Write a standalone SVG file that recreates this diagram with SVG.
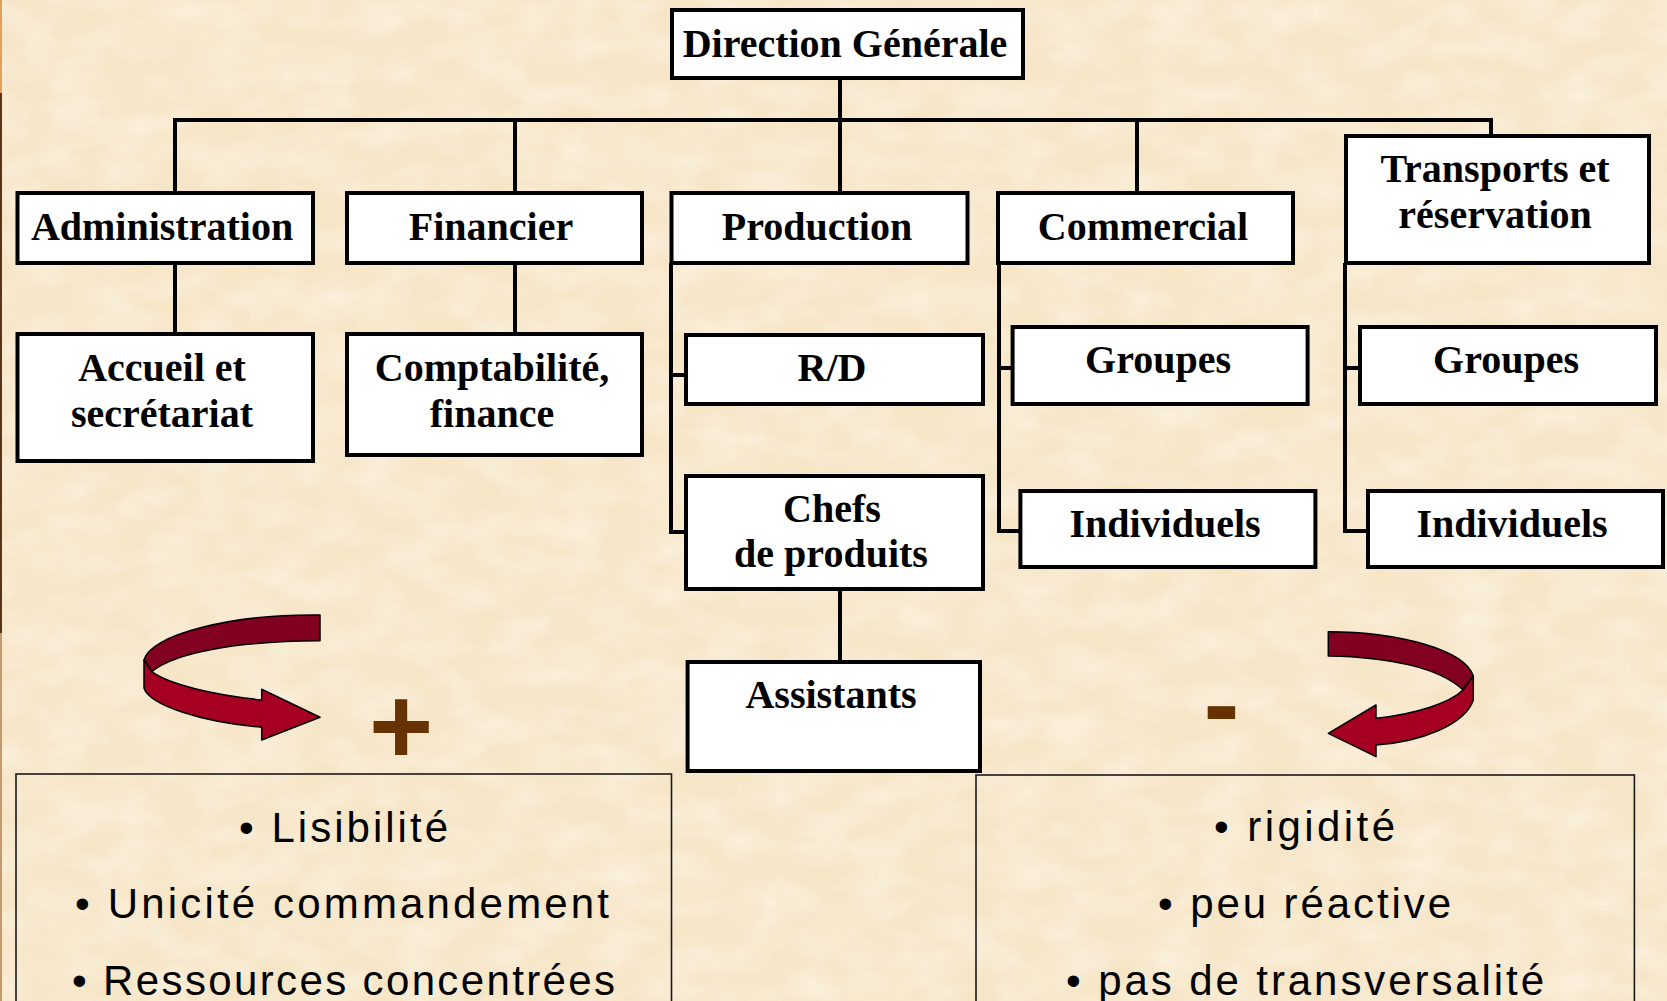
<svg xmlns="http://www.w3.org/2000/svg" width="1667" height="1001" viewBox="0 0 1667 1001">
<defs>
<style>
.box{fill:#ffffff;stroke:#000000;stroke-width:4}
.lbl{font-family:"Liberation Serif","Times New Roman",serif;font-weight:bold;font-size:40px;fill:#000000;text-anchor:middle}
.con{fill:none;stroke:#000000;stroke-width:4;stroke-linecap:square}
.panel{fill:none;stroke:#1a1a1a;stroke-width:1.6}
.bul{font-family:"Liberation Sans",Arial,sans-serif;font-size:42px;fill:#000000;text-anchor:middle}
.sign{font-family:"Liberation Sans",Arial,sans-serif;font-weight:bold;fill:#663300;text-anchor:middle}
.arrDark{fill:#820020;stroke:#000000;stroke-width:1.5;stroke-linejoin:round}
.arrLight{fill:#a50022;stroke:#000000;stroke-width:1.5;stroke-linejoin:round}
</style>
<filter id="paper" x="0" y="0" width="100%" height="100%">
<feTurbulence type="fractalNoise" baseFrequency="0.02 0.035" numOctaves="3" seed="7" result="n"/>
<feColorMatrix type="matrix" values="0 0 0 0 1  0 0 0 0 0.975  0 0 0 0 0.92  0 0 0 -1.4 1.0" in="n"/>
</filter>
</defs>
<g id="background">
<rect x="0" y="0" width="1667" height="1001" fill="#f6e5c6"/>
<rect x="0" y="0" width="1667" height="1001" filter="url(#paper)" opacity="0.55"/>
<rect x="0" y="0" width="2" height="93" fill="#e0a060"/>
<rect x="0" y="93" width="2" height="540" fill="#5a3416"/>
<rect x="0" y="633" width="2" height="368" fill="#c89a6a"/>
</g>
<g id="connectors">
<path class="con" d="M840,80 V120"/>
<path class="con" d="M175,191 V120 H1491 V134"/>
<path class="con" d="M515,120 V191"/>
<path class="con" d="M840,120 V191"/>
<path class="con" d="M1137,120 V191"/>
<path class="con" d="M175,265 V332"/>
<path class="con" d="M515,265 V332"/>
<path class="con" d="M671,265 V532 H684 M671,375 H684"/>
<path class="con" d="M999,265 V531 H1018 M999,368 H1011"/>
<path class="con" d="M1345,265 V531 H1366 M1345,368 H1358"/>
<path class="con" d="M840,591 V660"/>
</g>
<g id="n-direction"><rect class="box" x="672" y="10" width="351" height="68"/><text class="lbl" x="845" y="57">Direction Générale</text></g>
<g id="n-administration"><rect class="box" x="17.5" y="193" width="295.5" height="70"/><text class="lbl" x="162" y="240">Administration</text></g>
<g id="n-financier"><rect class="box" x="347" y="193" width="295" height="70"/><text class="lbl" x="491" y="240">Financier</text></g>
<g id="n-production"><rect class="box" x="671.5" y="193" width="296" height="70"/><text class="lbl" x="817" y="240">Production</text></g>
<g id="n-commercial"><rect class="box" x="998" y="193" width="295" height="70"/><text class="lbl" x="1143" y="240">Commercial</text></g>
<g id="n-transports"><rect class="box" x="1346" y="136" width="303" height="127"/><text class="lbl" x="1495" y="182">Transports et</text><text class="lbl" x="1495" y="228">réservation</text></g>
<g id="n-accueil"><rect class="box" x="17.5" y="334" width="295.5" height="127"/><text class="lbl" x="162" y="381">Accueil et</text><text class="lbl" x="162" y="427">secrétariat</text></g>
<g id="n-comptabilite"><rect class="box" x="347" y="334" width="295" height="121"/><text class="lbl" x="492" y="381">Comptabilité,</text><text class="lbl" x="492" y="427">finance</text></g>
<g id="n-rd"><rect class="box" x="686" y="335" width="297" height="69"/><text class="lbl" x="832" y="381">R/D</text></g>
<g id="n-chefs"><rect class="box" x="686" y="476" width="297" height="113"/><text class="lbl" x="832" y="522">Chefs</text><text class="lbl" x="831" y="567">de produits</text></g>
<g id="n-assistants"><rect class="box" x="687.6" y="662" width="292.4" height="109"/><text class="lbl" x="831" y="708">Assistants</text></g>
<g id="n-groupes-com"><rect class="box" x="1012.6" y="327" width="295" height="77"/><text class="lbl" x="1158" y="373">Groupes</text></g>
<g id="n-individuels-com"><rect class="box" x="1020.4" y="491" width="295" height="76"/><text class="lbl" x="1165" y="537">Individuels</text></g>
<g id="n-groupes-tr"><rect class="box" x="1360" y="327" width="296" height="77"/><text class="lbl" x="1506" y="373">Groupes</text></g>
<g id="n-individuels-tr"><rect class="box" x="1368" y="491" width="295" height="76"/><text class="lbl" x="1512" y="537">Individuels</text></g>
<g id="advantages">
<path class="arrDark" d="M320,615 C230,614 150,635 144,660 L151.7,671.7 C175,652 240,641 320,640.7 Z"/>
<path class="arrLight" d="M144,660 L144,688.3 C150,705 200,722 261.7,727.3 L261.7,740 L320,717.3 L261.7,689.3 L261.7,700 C215,695 170,685 151.7,671.7 Z"/>
<text class="sign" x="401" y="764" font-size="110">+</text>
<rect class="panel" x="16" y="774" width="655.5" height="260"/>
<text class="bul" x="343.5" y="842" textLength="209" lengthAdjust="spacing">• Lisibilité</text>
<text class="bul" x="342" y="918" textLength="534" lengthAdjust="spacing">• Unicité commandement</text>
<text class="bul" x="343.5" y="995" textLength="543" lengthAdjust="spacing">• Ressources concentrées</text>
</g>
<g id="drawbacks">
<path class="arrDark" d="M1328.3,631.7 C1400,632 1465,650 1473.3,676 L1463,690 C1440,668 1390,657 1328.3,656 Z"/>
<path class="arrLight" d="M1473.3,676 L1473.3,700 C1465,725 1420,742 1376,745 L1376,756.7 L1328.3,733.3 L1376,705 L1376,718.3 C1415,714 1450,703 1463,690 Z"/>
<text class="sign" x="1221.5" y="741" font-size="108">-</text>
<rect class="panel" x="976" y="775" width="658.4" height="260"/>
<text class="bul" x="1304.5" y="841" textLength="181" lengthAdjust="spacing">• rigidité</text>
<text class="bul" x="1304.5" y="918" textLength="293" lengthAdjust="spacing">• peu réactive</text>
<text class="bul" x="1305" y="995" textLength="478" lengthAdjust="spacing">• pas de transversalité</text>
</g>
</svg>
